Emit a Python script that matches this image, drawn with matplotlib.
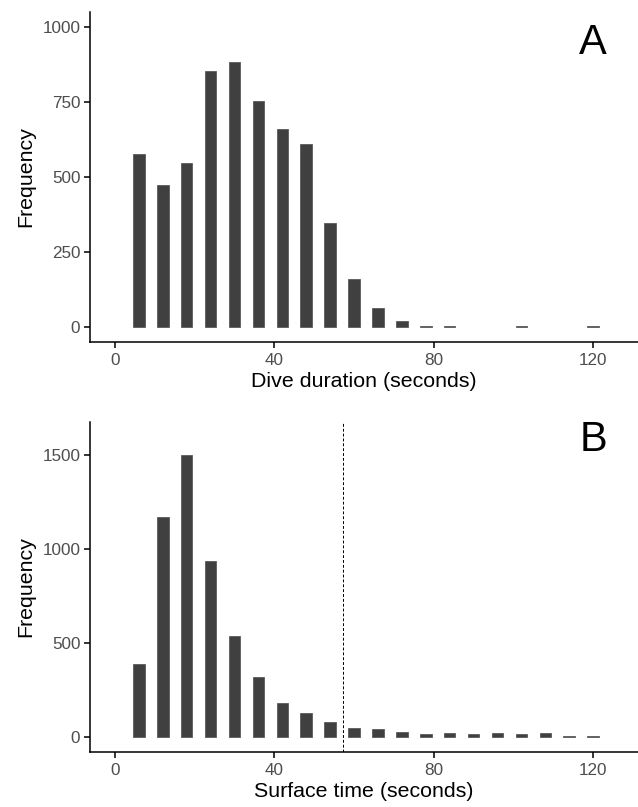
import numpy as np
import matplotlib.pyplot as plt

plt.rcParams['font.family'] = ['Liberation Sans', 'DejaVu Sans']

# Panel A: dive duration histogram (6 s bins)
dive_bins = [6, 12, 18, 24, 30, 36, 42, 48, 54, 60, 66, 72, 78, 84, 102, 120]
dive_freq = [577, 473, 545, 853, 882, 753, 661, 609, 347, 159, 61, 18, 3, 3, 3, 3]

# Panel B: surface time histogram (6 s bins)
surf_bins = [6, 12, 18, 24, 30, 36, 42, 48, 54, 60, 66, 72, 78, 84, 90, 96, 102, 108, 114, 120]
surf_freq = [389, 1170, 1505, 939, 538, 320, 178, 124, 77, 46, 41, 25, 13, 18, 13, 18, 13, 19, 5, 5]
surf_cutoff = 57.3

x_ticks = [0, 40, 80, 120]
dive_yticks = [0, 250, 500, 750, 1000]
surf_yticks = [0, 500, 1000, 1500]

bar_fill = '#404040'
bar_edge = '#5a5a5a'
tick_col = '#4D4D4D'

fig = plt.figure(figsize=(6.38, 8.07), dpi=100)
axA = fig.add_axes([0.1411, 0.5766, 0.8589, 0.4085])
axB = fig.add_axes([0.1411, 0.0685, 0.8589, 0.4089])


def style(ax, yticks, ylim, xlabel, letter, letter_y):
    ax.set_xlim(-6.25, 131.25)
    ax.set_ylim(*ylim)
    ax.set_xticks(x_ticks)
    ax.set_yticks(yticks)
    for s in ['top', 'right']:
        ax.spines[s].set_visible(False)
    for s in ['left', 'bottom']:
        ax.spines[s].set_linewidth(1.1)
        ax.spines[s].set_color('black')
    ax.tick_params(axis='both', direction='out', length=4, width=1.1,
                   color='black', labelcolor=tick_col, labelsize=12.3)
    ax.tick_params(axis='x', pad=4)
    ax.tick_params(axis='y', pad=3)
    ax.set_xlabel(xlabel, fontsize=15.4, labelpad=3)
    ax.set_ylabel('Frequency', fontsize=15.4, labelpad=5)
    ax.text(120, letter_y, letter, fontsize=30, ha='center', va='center')


axA.bar(dive_bins, dive_freq, width=2.9, color=bar_fill, edgecolor=bar_edge, linewidth=0.6)
style(axA, dive_yticks, (-50, 1050), 'Dive duration (seconds)', 'A', 947)

axB.bar(surf_bins, surf_freq, width=2.9, color=bar_fill, edgecolor=bar_edge, linewidth=0.6)
axB.axvline(surf_cutoff, color='black', linestyle=(0, (3, 2)), linewidth=0.7)
style(axB, surf_yticks, (-80, 1680), 'Surface time (seconds)', 'B', 1580)

fig.savefig('out.png', dpi=100)
